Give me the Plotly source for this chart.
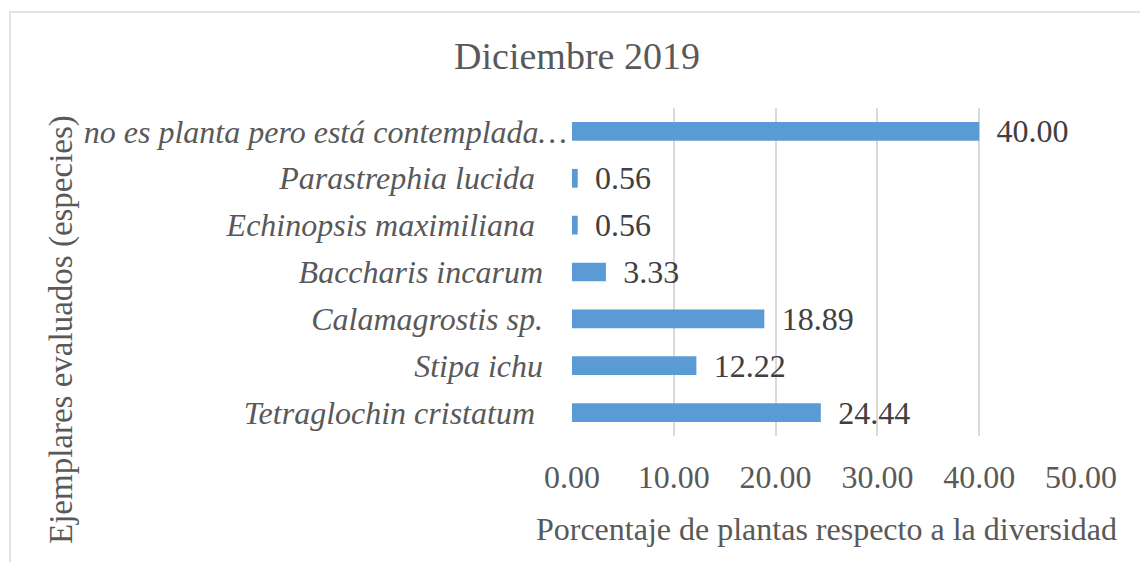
import plotly.graph_objects as go

# data (bottom to top, as plotted)
species = [
    "Tetraglochin cristatum",
    "Stipa ichu",
    "Calamagrostis sp.",
    "Baccharis incarum",
    "Echinopsis maximiliana",
    "Parastrephia lucida",
    "no es planta pero está contemplada…",
]
porcentaje = [24.44, 12.22, 18.89, 3.33, 0.56, 0.56, 40.00]
x_ticks = [0, 10, 20, 30, 40, 50]

W, H = 1140, 562
L, R, T, B = 572, 59, 108, 126
GREY = "#595959"
FONT = "Liberation Serif"

# Excel kept trailing blanks on some labels; the truncated one sits tight to the axis
label_pad = [4, 3, 3, 3, 4, 4, 0]
tick_text = [s + "\u00a0" * n for s, n in zip(species, label_pad)]

fig = go.Figure(go.Bar(
    x=porcentaje,
    y=species,
    orientation="h",
    width=0.4,
    marker=dict(color="#5B9BD5", line=dict(width=0)),
    texttemplate="\u00a0\u2009%{x:.2f}",
    textposition="outside",
    constraintext="none",
    cliponaxis=False,
    textfont=dict(family=FONT, size=32, color="#404040"),
))

fig.update_layout(
    width=W, height=H,
    margin=dict(l=L, r=R, t=T, b=B),
    paper_bgcolor="white",
    plot_bgcolor="white",
    showlegend=False,
    font=dict(family=FONT, color=GREY),
    title=dict(
        text="Diciembre 2019",
        font=dict(family=FONT, size=38, color=GREY),
        xref="container", x=577 / W, xanchor="center",
        yref="container", y=1 - 56 / H, yanchor="middle",
    ),
    xaxis=dict(
        range=[0, 50],
        tickvals=x_ticks,
        ticktext=[f"{v:.2f}" for v in x_ticks],
        tickfont=dict(family=FONT, size=32, color=GREY),
        showgrid=True, gridcolor="#D9D9D9", gridwidth=1.5,
        zeroline=False, showline=False, ticks="",
        ticklabelstandoff=19,
        automargin=False,
        title=dict(
            text="Porcentaje de plantas respecto a la diversidad",
            font=dict(family=FONT, size=32, color=GREY),
            standoff=23,
        ),
    ),
    yaxis=dict(
        type="category",
        tickvals=species,
        ticktext=tick_text,
        tickfont=dict(family=FONT, size=32, color=GREY, style="italic"),
        showgrid=False, zeroline=False, showline=False, ticks="",
        ticklabelstandoff=4,
        automargin=False,
    ),
)

# rotated y axis title
fig.add_annotation(
    text="Ejemplares evaluados (especies)",
    xref="paper", yref="paper",
    x=(61 - L) / (W - L - R), y=(H - B - 330) / (H - T - B),
    xanchor="center", yanchor="middle",
    textangle=-90, showarrow=False,
    font=dict(family=FONT, size=33, color=GREY),
)

# chart area border (Excel-style frame)
pw, ph = W - L - R, H - T - B
fig.add_shape(
    type="rect", xref="paper", yref="paper",
    x0=(10 - L) / pw, x1=(W + 20 - L) / pw,
    y0=(H - B - (H + 20)) / ph, y1=(H - B - 12) / ph,
    line=dict(color="#D9D9D9", width=1.5), layer="below",
)

fig.write_html(
    "out.html",
    config={"displayModeBar": False},
    post_script="document.body.style.margin = '0';",
)
